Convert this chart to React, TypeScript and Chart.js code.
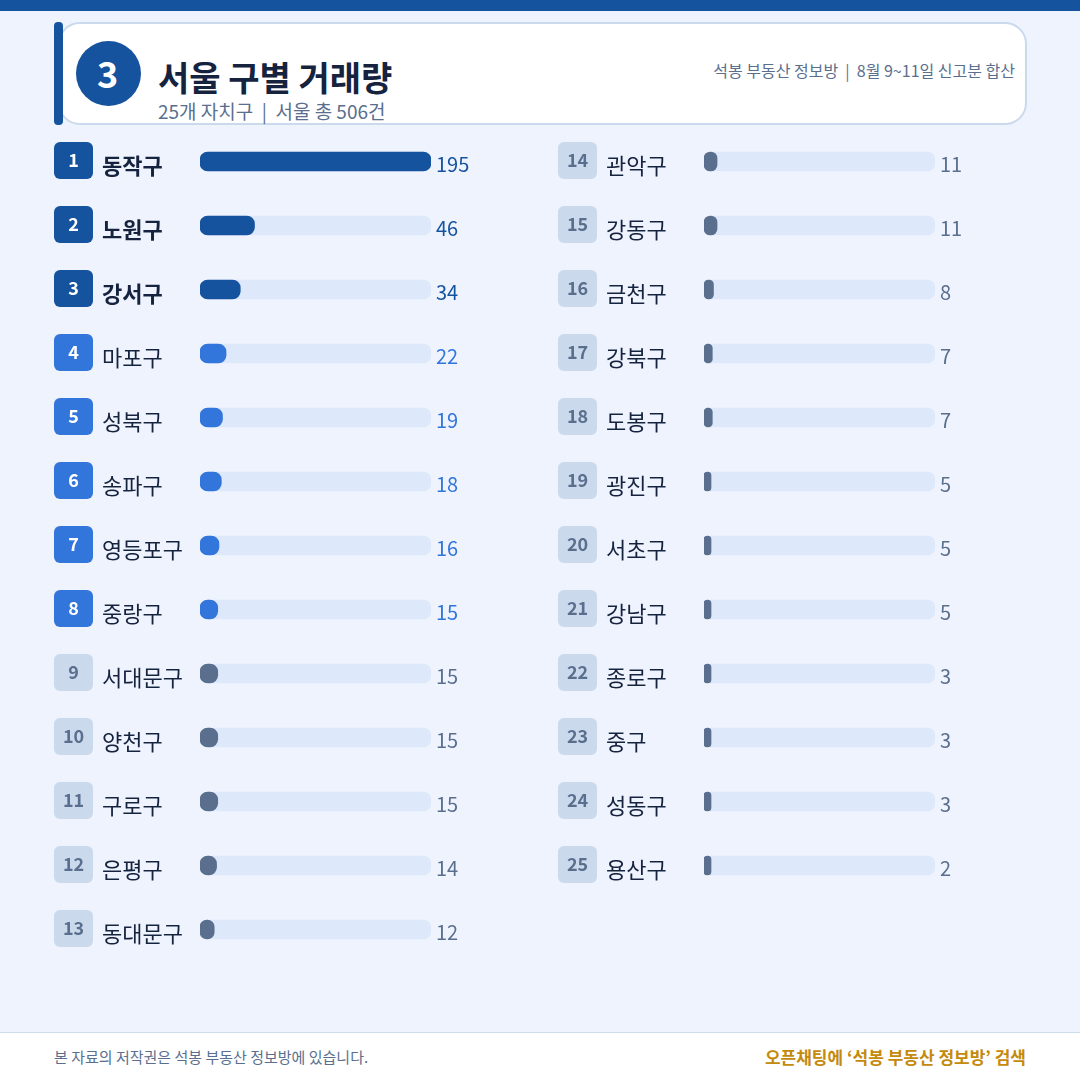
import React, { useEffect, useRef } from 'react';
import { Chart, registerables } from 'chart.js';

Chart.register(...registerables);

const FONT = '"Noto Sans CJK KR", "Noto Sans", sans-serif';

const leftRanks = [1, 2, 3, 4, 5, 6, 7, 8, 9, 10, 11, 12, 13];
const leftNames = ['동작구', '노원구', '강서구', '마포구', '성북구', '송파구', '영등포구', '중랑구', '서대문구', '양천구', '구로구', '은평구', '동대문구'];
const leftValues = [195, 46, 34, 22, 19, 18, 16, 15, 15, 15, 15, 14, 12];

const rightRanks = [14, 15, 16, 17, 18, 19, 20, 21, 22, 23, 24, 25];
const rightNames = ['관악구', '강동구', '금천구', '강북구', '도봉구', '광진구', '서초구', '강남구', '종로구', '중구', '성동구', '용산구'];
const rightValues = [11, 11, 8, 7, 7, 5, 5, 5, 3, 3, 3, 2];

const AXIS_MAX = 195;

const NAVY = '#16539f';
const BLUE = '#3276db';
const SLATE = '#5a6f8e';
const INK = '#16233f';
const TRACK = '#dde8fa';
const BADGE_MUTED = '#cbd9ed';

const tierColor = (rank: number) => (rank <= 3 ? NAVY : rank <= 8 ? BLUE : SLATE);

const rowDecor = {
  id: 'rowDecor',
  afterDatasetsDraw(chart: any, _args: any, opts: any) {
    const { ctx, scales } = chart;
    const { x, y } = scales;
    ctx.save();
    opts.ranks.forEach((rank: number, i: number) => {
      const mid = y.getPixelForValue(i);
      // rank badge
      ctx.fillStyle = rank <= 8 ? tierColor(rank) : BADGE_MUTED;
      ctx.beginPath();
      ctx.roundRect(x.left - 146, mid - 19.5, 39, 37, 6);
      ctx.fill();
      ctx.fillStyle = rank <= 8 ? '#ffffff' : SLATE;
      ctx.font = `700 18px ${FONT}`;
      ctx.textAlign = 'center';
      ctx.textBaseline = 'middle';
      ctx.fillText(String(rank), x.left - 126.5, mid - 1);
      // value at the end of the track
      ctx.fillStyle = tierColor(rank);
      ctx.font = `400 20px ${FONT}`;
      ctx.textAlign = 'left';
      ctx.fillText(String(opts.values[i]), x.getPixelForValue(AXIS_MAX) + 5, mid + 3);
    });
    ctx.restore();
  },
};

const BarColumn = ({ ranks, names, values, left, height }: any) => {
  const canvasRef = useRef<HTMLCanvasElement>(null);

  useEffect(() => {
    const chart = new Chart(canvasRef.current as any, {
      type: 'bar',
      data: {
        labels: names,
        datasets: [
          {
            data: values,
            backgroundColor: ranks.map(tierColor),
            borderRadius: 8,
            borderSkipped: false,
            barThickness: 19,
            minBarLength: 7,
            grouped: false,
            order: 1,
          },
          {
            data: names.map(() => AXIS_MAX),
            backgroundColor: TRACK,
            borderRadius: 8,
            borderSkipped: false,
            barThickness: 19,
            grouped: false,
            order: 2,
          },
        ],
      } as any,
      options: {
        indexAxis: 'y',
        responsive: false,
        animation: false,
        events: [],
        layout: { padding: { left: 48, right: 123, top: 29.5, bottom: 20.5 } },
        scales: {
          x: { display: false, min: 0, max: AXIS_MAX },
          y: {
            grid: { display: false, drawTicks: false },
            border: { display: false },
            afterFit: (scale: any) => {
              scale.width = 98;
            },
            ticks: {
              autoSkip: false,
              crossAlign: 'far',
              labelOffset: 4.5,
              color: INK,
              font: (ctx: any) => ({
                family: FONT,
                size: 22,
                weight: ranks[ctx.index] <= 3 ? 700 : 400,
              }),
            },
          },
        },
        plugins: {
          legend: { display: false },
          tooltip: { enabled: false },
          rowDecor: { ranks, values },
        },
      } as any,
      plugins: [rowDecor],
    });

    return () => chart.destroy();
  }, []);

  return (
    <canvas
      ref={canvasRef}
      width={500}
      height={height}
      style={{ position: 'absolute', left, top: 100, width: 500, height }}
    />
  );
};

const text = (style: any): any => ({ position: 'absolute', whiteSpace: 'pre', fontFamily: FONT, lineHeight: 1, ...style });

export default function App() {
  return (
    <div style={{ position: 'absolute', left: 0, top: 0, width: 1080, height: 1080, background: '#eef3fe', overflow: 'hidden' }}>
      <div style={{ position: 'absolute', left: 0, top: 0, width: 1080, height: 11, background: NAVY }} />

      <div style={{ position: 'absolute', left: 58, top: 22, width: 969, height: 103, boxSizing: 'border-box', background: '#fff', border: '2px solid #cbd9ed', borderRadius: 22 }} />
      <div style={{ position: 'absolute', left: 54, top: 22, width: 9, height: 103, background: NAVY, borderRadius: 4 }} />
      <div style={{ position: 'absolute', left: 76, top: 41, width: 65, height: 65, borderRadius: '50%', background: NAVY }} />
      <div style={text({ left: 75, top: 54, width: 65, textAlign: 'center', color: '#fff', fontSize: 36, fontWeight: 700 })}>3</div>

      <div style={text({ left: 158, top: 60, color: INK, fontSize: 34, fontWeight: 700 })}>서울 구별 거래량</div>
      <div style={text({ left: 158, top: 101, color: SLATE, fontSize: 19 })}>25개 자치구  |  서울 총 506건</div>
      <div style={text({ right: 65, top: 62, color: SLATE, fontSize: 16 })}>석봉 부동산 정보방  |  8월 9~11일 신고분 합산</div>

      <BarColumn ranks={leftRanks} names={leftNames} values={leftValues} left={54} height={882} />
      <BarColumn ranks={rightRanks} names={rightNames} values={rightValues} left={558} height={818} />

      <div style={{ position: 'absolute', left: 0, top: 1032, width: 1080, height: 48, boxSizing: 'border-box', background: '#fff', borderTop: '1px solid #cfdcec' }} />
      <div style={text({ left: 54, top: 1049, color: SLATE, fontSize: 15 })}>본 자료의 저작권은 석봉 부동산 정보방에 있습니다.</div>
      <div style={text({ right: 54, top: 1048, color: '#c48a0c', fontSize: 17, fontWeight: 700 })}>오픈채팅에 ‘석봉 부동산 정보방’ 검색</div>
    </div>
  );
}
